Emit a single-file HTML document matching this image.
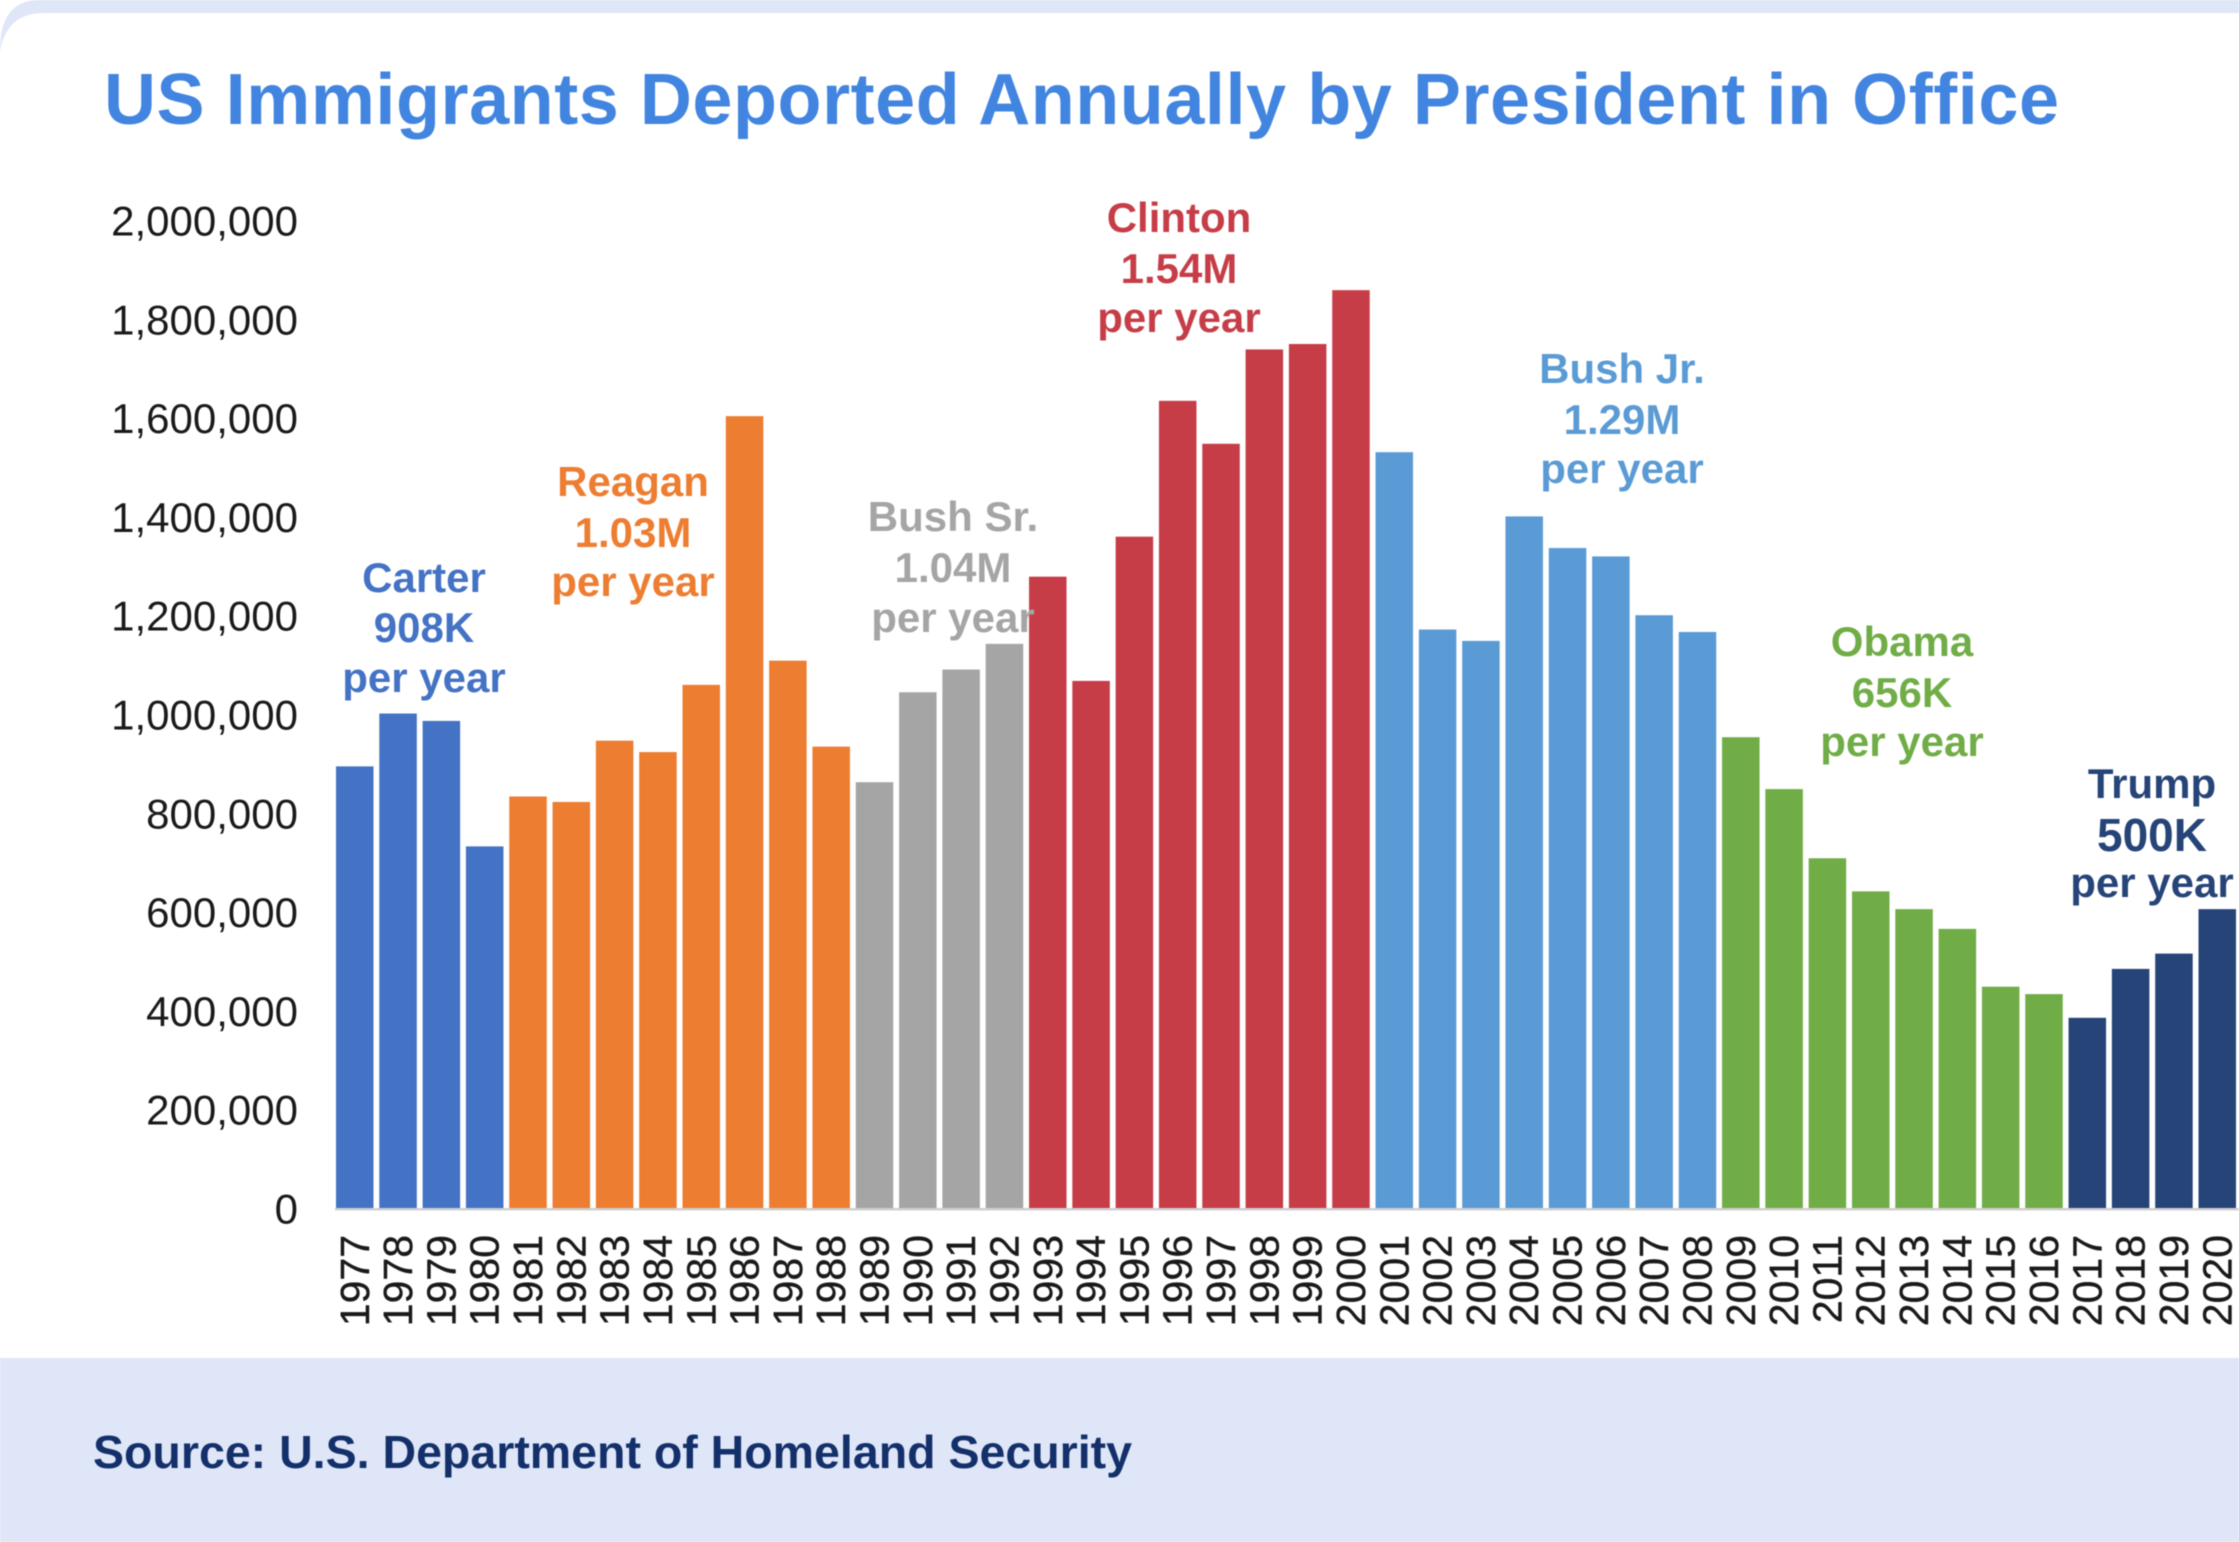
<!DOCTYPE html>
<html lang="en">
<head>
<meta charset="utf-8">
<title>US Immigrants Deported Annually by President in Office</title>
<style>
html,body{margin:0;padding:0;background:#fff;width:2239px;height:1542px;overflow:hidden}
svg{display:block;font-family:"Liberation Sans",Arial,sans-serif;filter:blur(0.5px)}
.note{font-weight:700;font-size:42px;text-anchor:middle}
</style>
</head>
<body>
<svg id="chart" xmlns="http://www.w3.org/2000/svg" width="2239" height="1542" viewBox="0 0 2239 1542">
  <rect x="0" y="0" width="2239" height="1542" fill="#ffffff"/>
  <path d="M0 50 Q0 0 40 0 H2239 V60 H0 Z" fill="#dfe6f7"/>
  <path d="M0 1358 V52 Q6 13 44 13 H2239 V1358 Z" fill="#ffffff"/>
  <rect x="0" y="1358" width="2239" height="184" fill="#dfe6f7"/>
  <text x="104" y="124" font-size="72" font-weight="700" fill="#4285e0" textLength="1955" lengthAdjust="spacing">US Immigrants Deported Annually by President in Office</text>
  <text x="93" y="1468" font-size="46" font-weight="700" fill="#14306b" textLength="1039" lengthAdjust="spacingAndGlyphs">Source: U.S. Department of Homeland Security</text>
  <g id="y-axis"></g>
  <g id="bars"></g>
  <g id="x-axis"></g>

  <text class="note" fill="#4472c4"><tspan x="424" y="592">Carter</tspan><tspan x="424" y="642">908K</tspan><tspan x="424" y="692">per year</tspan></text>
  <text class="note" fill="#ed7d31"><tspan x="633" y="496">Reagan</tspan><tspan x="633" y="547">1.03M</tspan><tspan x="633" y="596">per year</tspan></text>
  <text class="note" fill="#a5a5a5"><tspan x="953" y="531">Bush Sr.</tspan><tspan x="953" y="582">1.04M</tspan><tspan x="953" y="632">per year</tspan></text>
  <text class="note" fill="#c63d47"><tspan x="1179" y="232">Clinton</tspan><tspan x="1179" y="283">1.54M</tspan><tspan x="1179" y="332">per year</tspan></text>
  <text class="note" fill="#5b9bd5"><tspan x="1622" y="383">Bush Jr.</tspan><tspan x="1622" y="434">1.29M</tspan><tspan x="1622" y="483">per year</tspan></text>
  <text class="note" fill="#70ad47"><tspan x="1902" y="656">Obama</tspan><tspan x="1902" y="707">656K</tspan><tspan x="1902" y="756">per year</tspan></text>
  <text class="note" fill="#264478"><tspan x="2152" y="798">Trump</tspan><tspan x="2152" y="851" font-size="46">500K</tspan><tspan x="2152" y="897">per year</tspan></text>
</svg>
<script>
const years = [1977,1978,1979,1980,1981,1982,1983,1984,1985,1986,1987,1988,1989,1990,1991,1992,1993,1994,1995,1996,1997,1998,1999,2000,2001,2002,2003,2004,2005,2006,2007,2008,2009,2010,2011,2012,2013,2014,2015,2016,2017,2018,2019,2020];
const deportations = [896000,1003000,988000,734000,835000,824000,948000,925000,1061000,1605000,1110000,936000,864000,1046000,1092000,1144000,1280000,1069000,1361000,1636000,1549000,1740000,1751000,1860000,1532000,1173000,1150000,1402000,1338000,1321000,1202000,1168000,955000,850000,710000,643000,607000,567000,450000,435000,387000,486000,517000,607000];
const presidentNames = ["Carter","Reagan","Bush Sr.","Clinton","Bush Jr.","Obama","Trump"];
const presidentFirstYears = [1977,1981,1989,1993,2001,2009,2017];
const presidentColors = ["#4472c4","#ed7d31","#a5a5a5","#c63d47","#5b9bd5","#70ad47","#264478"];
const yTickValues = [0,200000,400000,600000,800000,1000000,1200000,1400000,1600000,1800000,2000000];

const SVG_NS = "http://www.w3.org/2000/svg";
const baseY = 1209, axisMax = 2000000, plotHeight = 988;
const firstBarLeft = 336, lastBarLeft = 2198.5, barWidth = 37.5;
const xLeft = i => firstBarLeft + i * (lastBarLeft - firstBarLeft) / (years.length - 1);
const yOf = v => baseY - v / axisMax * plotHeight;
const presidentIndex = y => {
  let k = 0;
  presidentFirstYears.forEach((f, i) => { if (y >= f) k = i; });
  return k;
};
function make(tag, attrs, parent, text) {
  const el = document.createElementNS(SVG_NS, tag);
  for (const key in attrs) el.setAttribute(key, attrs[key]);
  if (text !== undefined) el.textContent = text;
  parent.appendChild(el);
  return el;
}
const yAxis = document.getElementById("y-axis");
const barsGroup = document.getElementById("bars");
const xAxis = document.getElementById("x-axis");

yTickValues.forEach(v => {
  const tick = make("text", {x: 298, y: yOf(v) + 14.5, "font-size": 42, "text-anchor": "end", fill: "#1a1a1a"}, yAxis, v.toLocaleString("en-US"));
  
  
});

years.forEach((year, i) => {
  const top = yOf(deportations[i]);
  const bar = make("rect", {x: xLeft(i), y: top, width: barWidth, height: baseY - top, fill: presidentColors[presidentIndex(year)]}, barsGroup);
  
  
  const cx = xLeft(i) + barWidth / 2;
  const label = make("text", {transform: "translate(" + (cx + 14) + ",1235) rotate(-90)", "font-size": 41, "text-anchor": "end", fill: "#1a1a1a", stroke: "#1a1a1a", "stroke-width": 0.4}, xAxis, String(year));
  
  
});

const axisLine = make("rect", {x: 335, y: baseY - 1, width: 1904, height: 2.5, fill: "#d0d0d0"}, xAxis);


</script>
</body>
</html>
